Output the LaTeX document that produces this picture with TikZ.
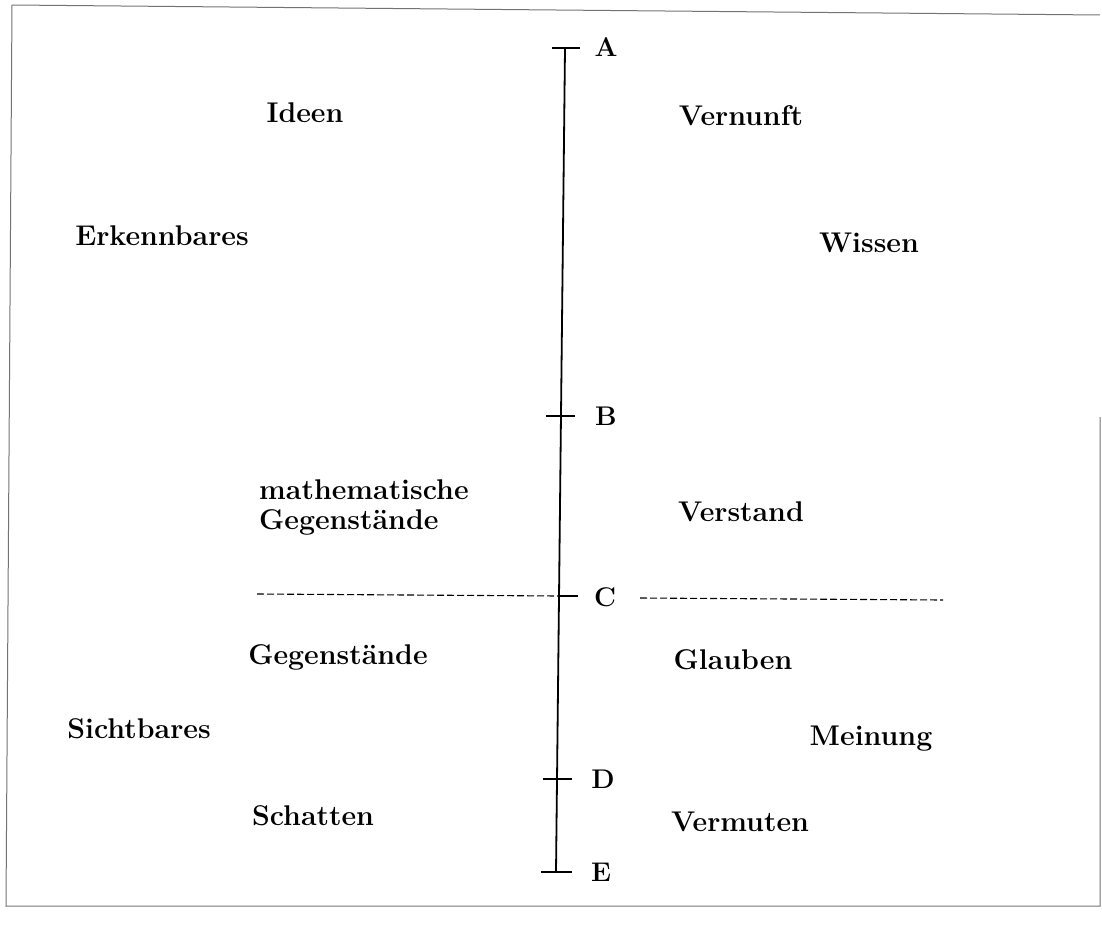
\documentclass[tikz,border=0pt]{standalone}
\begin{document}
\begin{tikzpicture}[x=1pt,y=-1pt,
  lbl/.style={font=\fontsize{28.5}{30}\selectfont\bfseries, inner sep=0pt},
  ticklbl/.style={font=\fontsize{27}{30}\selectfont\bfseries, inner sep=0pt},
  frame/.style={draw=black!55, line width=1pt},
  axis/.style={draw=black, line width=1.8pt},
  tickln/.style={draw=black, line width=1.4pt},
  dashln/.style={draw=black, line width=1.1pt, dash pattern=on 7pt off 3pt}]
\useasboundingbox (0,0) rectangle (1102,942);
% frame
\coordinate (f1) at (12,5);
\coordinate (f2) at (1100,15);
\coordinate (f3) at (6,906);
\coordinate (f4) at (1100,906);
\coordinate (f5) at (1100,417);
\draw[frame] (f1) -- (f2);
\draw[frame] (f1) -- (f3) -- (f4) -- (f5);
% axis points
\coordinate (pA) at (565,48);
\coordinate (pB) at (561,416);
\coordinate (pC) at (559,596);
\coordinate (pD) at (557,779);
\coordinate (pE) at (556,872);
\draw[axis] (pA) -- (pE);
\draw[tickln] (552,48) -- (580,48);
\draw[tickln] (546,416) -- (575,416);
\draw[tickln] (559,596) -- (578,596);
\draw[tickln] (543,779) -- (572,779);
\draw[tickln] (541,872) -- (572,872);
\node[ticklbl] (A) at (606,47) {A};
\node[ticklbl] (B) at (606,416) {B};
\node[ticklbl] (C) at (605,597) {C};
\node[ticklbl] (D) at (603,779) {D};
\node[ticklbl] (E) at (601,872) {E};
% dashed lines
\coordinate (dl) at (257,594);
\coordinate (dr1) at (640,598);
\coordinate (dr2) at (943,600);
\draw[dashln] (dl) -- (pC);
\draw[dashln] (dr1) -- (dr2);
% labels
\node[lbl] (ideen) at (305,113) {Ideen};
\node[lbl] (vernunft) at (741,116) {Vernunft};
\node[lbl] (erk) at (162,236) {Erkennbares};
\node[lbl] (wissen) at (869,243) {Wissen};
\node[lbl, align=left, anchor=west] (math) at (259,507) {mathematische\\Gegenstände};
\node[lbl] (verstand) at (741,512) {Verstand};
\node[lbl] (gegen) at (338,657) {Gegenstände};
\node[lbl] (glauben) at (733,660) {Glauben};
\node[lbl] (sicht) at (139,729) {Sichtbares};
\node[lbl] (meinung) at (871,739) {Meinung};
\node[lbl] (schatten) at (313,816) {Schatten};
\node[lbl] (vermuten) at (740,822) {Vermuten};
\end{tikzpicture}
\end{document}
